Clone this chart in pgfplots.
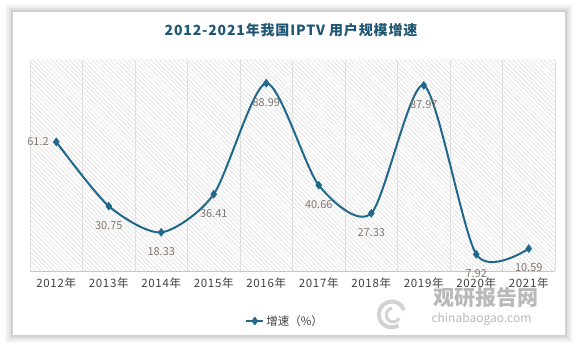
\documentclass[border=0pt]{standalone}
\usepackage{pgfplots}
\pgfplotsset{compat=1.18}
\usetikzlibrary{patterns.meta}
\usepackage{fontspec}
\setmainfont{Noto Sans CJK SC}
\definecolor{linec}{RGB}{31,104,140}
\definecolor{titlec}{RGB}{31,86,115}
\definecolor{labc}{RGB}{128,120,112}
\definecolor{tickc}{RGB}{64,64,64}
\begin{document}
\begin{tikzpicture}[x=1pt,y=1pt]
% background and card with shadow
\fill[white] (0,0) rectangle (583,348);
\foreach \i/\o in {8/0.03,6/0.04,4/0.05,2/0.07}{
  \fill[black,opacity=\o] (13-\i,13-\i) rectangle (565+\i,336+\i);
}
\fill[white] (13,13) rectangle (565,336);
% title
\node[font=\bfseries\fontsize{14}{16}\selectfont\addfontfeature{LetterSpace=6}, text=titlec] at (291,318) {2012-2021年我国IPTV 用户规模增速};
% watermark
\draw[gray!35,line width=4pt] (404,38) arc (20:300:13);
\draw[gray!35,line width=3pt] (392,40) arc (100:330:7);
\node[font=\bfseries\fontsize{21}{23}\selectfont, text=gray!55, anchor=west] at (430,50) {观研报告网};
\node[font=\fontsize{12}{14}\selectfont, text=gray!55, anchor=west] at (428,29) {chinabaogao.com};
\begin{axis}[
  at={(30pt,77pt)}, anchor=south west,
  scale only axis, width=525pt, height=211pt,
  xmin=-0.5, xmax=9.5, ymin=0, ymax=100,
  axis background/.style={pattern={Lines[angle=-45,distance=3.2pt,line width=0.5pt]}, pattern color=gray!30},
  axis y line=none,
  axis x line*=bottom,
  x axis line style={draw=gray!45, line width=0.8pt, -},
  xtick={0,...,9},
  xticklabels={2012年,2013年,2014年,2015年,2016年,2017年,2018年,2019年,2020年,2021年},
  minor xtick={-0.5,0.5,...,9.5},
  xminorgrids=true,
  minor grid style={draw=gray!25, line width=0.6pt},
  major tick length=0pt, minor tick length=0pt,
  xticklabel style={font=\fontsize{11.5}{13}\selectfont\addfontfeature{LetterSpace=6}, text=tickc, yshift=-3pt},
  /pgf/number format/assume math mode=true,
  legend style={at={(0.486,-0.237)}, anchor=center, draw=none, fill=none, font=\fontsize{11.5}{13}\selectfont, text=tickc},
  legend cell align=left,
  clip=false,
]
\addplot[linec, line width=2pt, smooth, tension=0.45, mark=diamond*, mark size=4pt, mark options={fill=linec, draw=linec, line width=0.5pt}]
  coordinates {(0,61.2) (1,30.75) (2,18.33) (3,36.41) (4,88.99) (5,40.66) (6,27.33) (7,87.97) (8,7.92) (9,10.59)};
\addlegendentry{增速（\%）}
% data labels
\addplot[draw=none, mark=none, forget plot, point meta=explicit,
  nodes near coords, nodes near coords align={center},
  every node near coord/.append style={font=\fontsize{11}{12}\selectfont, text=labc, anchor=center, yshift=-19pt}]
  coordinates {(1,30.75) [30.75] (2,18.33) [18.33] (3,36.41) [36.41] (4,88.99) [88.99] (5,40.66) [40.66] (6,27.33) [27.33] (7,87.97) [87.97] (8,7.92) [7.92] (9,10.59) [10.59]};
\addplot[draw=none, mark=none, forget plot, point meta=explicit,
  nodes near coords, 
  every node near coord/.append style={font=\fontsize{11}{12}\selectfont, text=labc, anchor=east, xshift=-4pt, yshift=0pt}]
  coordinates {(0,61.2) [61.2]};
\end{axis}
\end{tikzpicture}
\end{document}
